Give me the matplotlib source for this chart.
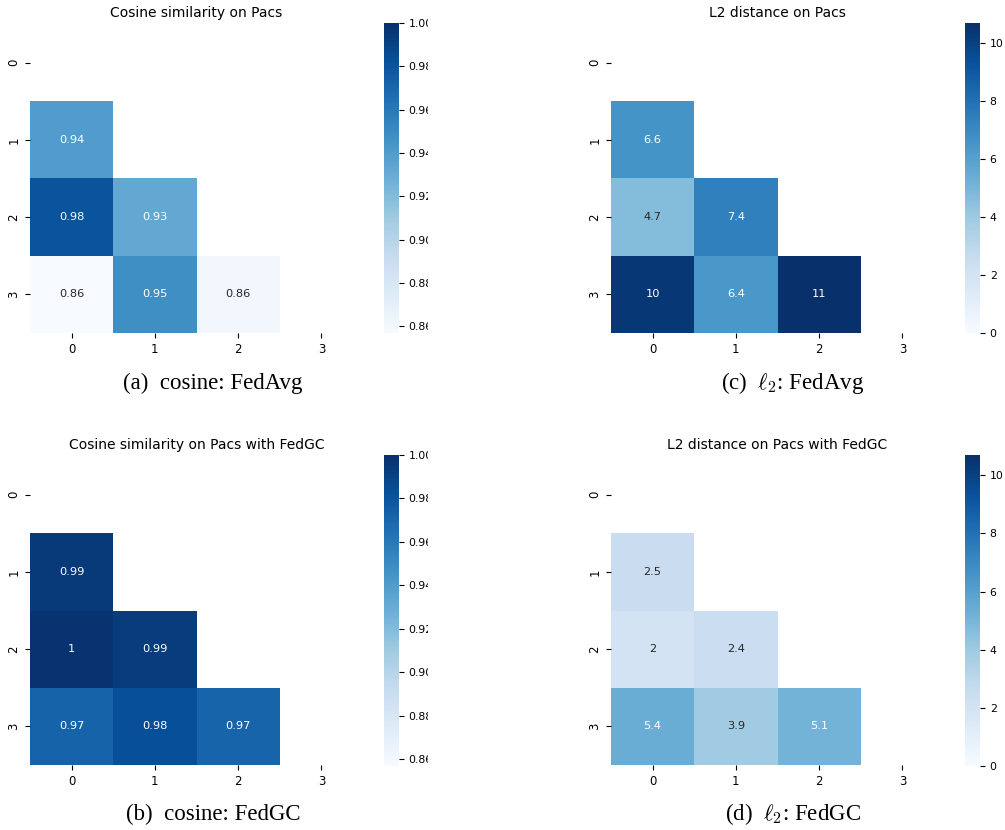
import numpy as np
import matplotlib
matplotlib.use("Agg")
import matplotlib.pyplot as plt
import seaborn as sns
from matplotlib.patches import Rectangle

plt.rcParams['mathtext.fontset'] = 'cm'

# ---- data (lower triangle, row i / column j, i > j) ----
clients = ["0", "1", "2", "3"]
cos_fedavg = [[1.0, 0, 0, 0],
              [0.940, 1.0, 0, 0],
              [0.980, 0.932, 1.0, 0],
              [0.857, 0.948, 0.862, 1.0]]
cos_fedgc = [[1.0, 0, 0, 0],
             [0.994, 1.0, 0, 0],
             [0.998, 0.993, 1.0, 0],
             [0.972, 0.983, 0.971, 1.0]]
l2_fedavg = [[0.0, 0, 0, 0],
             [6.6, 0.0, 0, 0],
             [4.7, 7.4, 0.0, 0],
             [10.4, 6.4, 10.7, 0.0]]
l2_fedgc = [[0.0, 0, 0, 0],
            [2.5, 0.0, 0, 0],
            [2.0, 2.4, 0.0, 0],
            [5.4, 3.9, 5.1, 0.0]]
cos_range = (0.857, 1.0)
l2_range = (0.0, 10.7)
cos_ticks = [0.86, 0.88, 0.90, 0.92, 0.94, 0.96, 0.98, 1.00]
l2_ticks = [0, 2, 4, 6, 8, 10]

titles = ["Cosine similarity on Pacs", "L2 distance on Pacs",
          "Cosine similarity on Pacs with FedGC", "L2 distance on Pacs with FedGC"]
captions = ["(a)  cosine: FedAvg", r"(c)  $\ell_2$: FedAvg",
            "(b)  cosine: FedGC", r"(d)  $\ell_2$: FedGC"]

W, H = 1005, 830
fig = plt.figure(figsize=(W / 100, H / 100), dpi=100)


def px_axes(x0, y0, x1, y1):
    return fig.add_axes([x0 / W, 1 - y1 / H, (x1 - x0) / W, (y1 - y0) / H])


panels = [
    (cos_fedavg, cos_range, cos_ticks, "{:.2f}", (30, 24, 363, 333), (384, 23, 399, 333), titles[0], captions[0], (213, 383)),
    (l2_fedavg, l2_range, l2_ticks, "{:d}", (611, 24, 944, 333), (965, 23, 980, 333), titles[1], captions[1], (793, 383)),
    (cos_fedgc, cos_range, cos_ticks, "{:.2f}", (30, 456, 363, 765), (384, 455, 399, 766), titles[2], captions[2], (213, 814)),
    (l2_fedgc, l2_range, l2_ticks, "{:d}", (611, 456, 944, 765), (965, 455, 980, 766), titles[3], captions[3], (793, 814)),
]

mask = np.triu(np.ones((4, 4), dtype=bool))

for data, rng, ticks, tfmt, axpos, cbpos, title, cap, cappos in panels:
    ax = px_axes(*axpos)
    cax = px_axes(*cbpos)
    arr = np.array(data)
    sns.heatmap(arr, mask=mask, cmap="Blues", vmin=rng[0], vmax=rng[1],
                annot=True, fmt=".2g", annot_kws={"fontsize": 8.2},
                xticklabels=clients, yticklabels=clients, ax=ax, cbar_ax=cax)
    # annotation colour: white on the darker half of the scale
    vals = arr[~mask]
    for txt, v in zip(ax.texts, vals):
        frac = (v - rng[0]) / (rng[1] - rng[0])
        txt.set_color("white" if frac > 0.46 else "#262626")
    ax.set_title(title, fontsize=10, pad=5)
    ax.tick_params(labelsize=8.4)
    cax.set_yticks(ticks)
    cax.set_yticklabels([tfmt.format(t) for t in ticks])
    cax.tick_params(labelsize=7.8)
    fig.text(cappos[0] / W, 1 - cappos[1] / H, cap, ha="center", va="center",
             fontsize=16.5, family="Liberation Serif")

# the left colour-bar labels are cut off in the reference (cropped sub-figures)
fig.add_artist(Rectangle((428 / W, 0), (560 - 428) / W, 1, transform=fig.transFigure,
                         facecolor="white", edgecolor="none", zorder=10))

fig.savefig("out.png", dpi=100)
